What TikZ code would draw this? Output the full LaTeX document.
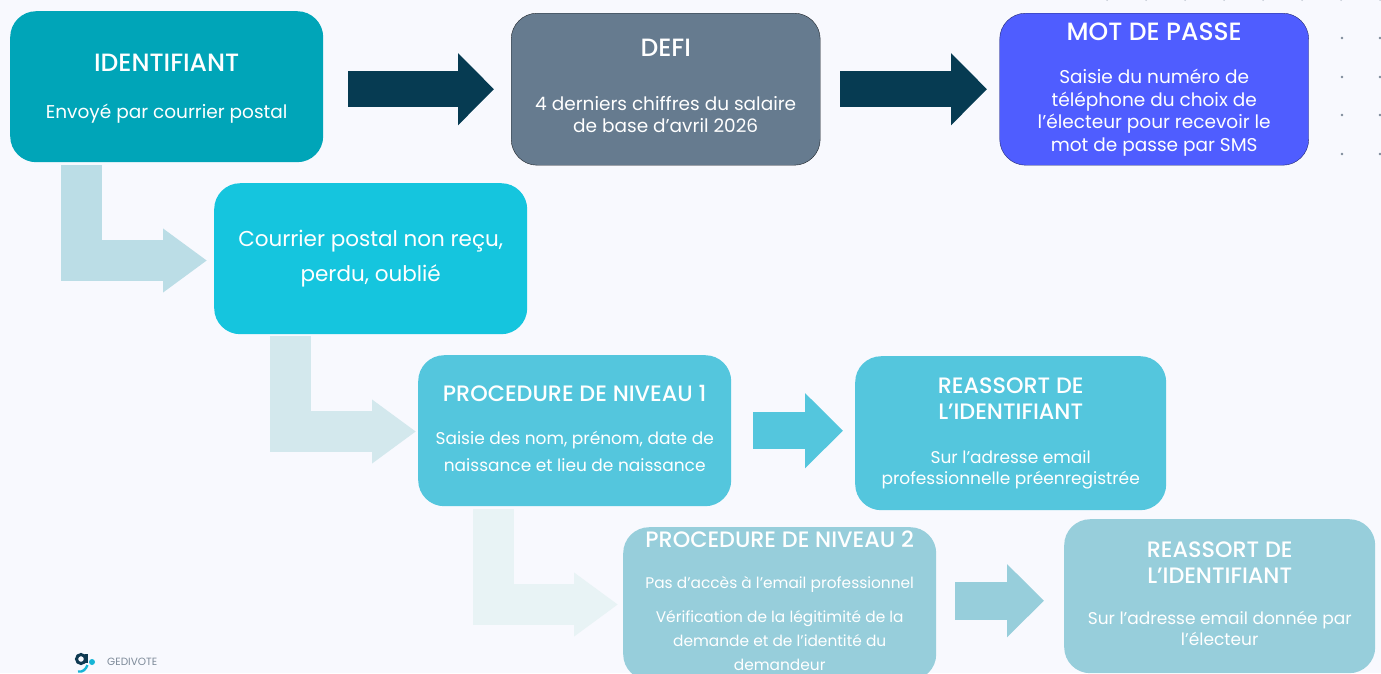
\documentclass[tikz,border=0pt]{standalone}
\usepackage{fontspec}
\setmainfont{Poppins}
\newfontfamily\pmed{Poppins Medium}
\usetikzlibrary{arrows.meta,calc}
\definecolor{bgc}{HTML}{F8F9FE}
\definecolor{cA}{HTML}{00A5B8}
\definecolor{cB}{HTML}{667B8F}
\definecolor{cC}{HTML}{15C5DE}
\definecolor{cD}{HTML}{54C6DD}
\definecolor{cE}{HTML}{97CEDB}
\definecolor{cV}{HTML}{4F5DFF}
\definecolor{aD}{HTML}{063B52}
\definecolor{a1}{HTML}{BBDDE6}
\definecolor{a2}{HTML}{D3E8ED}
\definecolor{a3}{HTML}{E8F3F5}
\definecolor{logoD}{HTML}{0F3A52}
\definecolor{logoC}{HTML}{16B5D6}
\definecolor{dotc}{HTML}{7D8A99}
\newcommand{\ttl}[1]{{\fontsize{25}{26}\pmed\selectfont #1}}
\newcommand{\ttb}[1]{{\fontsize{22.3}{26}\pmed\selectfont #1}}
\newcommand{\nudge}[1]{\rule[-#1]{0pt}{0pt}}
\tikzset{
 x=1pt,y=-1pt,
 card/.style={rounded corners=26pt,text=white,align=center,inner sep=0pt,anchor=north west,font=\fontsize{18.5}{22.5}\selectfont},
 small/.style={font=\fontsize{17}{21}\selectfont},
 bigarrow/.style={line width=36pt,-{Triangle[length=36pt,width=70pt]},line join=miter},
 larrow/.style={line width=41pt,-{Triangle[length=44pt,width=61pt]},line join=miter},
 smalldot/.style={circle,fill=dotc,inner sep=0pt,minimum size=2.6pt},
 edgedot/.style={circle,fill=dotc!45!bgc,inner sep=0pt,minimum size=2.6pt},
}
\begin{document}
\begin{tikzpicture}
\useasboundingbox (0,0) rectangle (1381,673);
\fill[bgc] (0,0) rectangle (1381,673);
\clip (0,0) rectangle (1381,673);
\node[card,fill=cA,minimum width=313pt,minimum height=151pt] (id) at (10,11) {\rule{0pt}{21pt}\ttl{IDENTIFIANT}\\[25pt]Envoyé par courrier postal};
\node[card,fill=cB,draw=black!70!cB,minimum width=309pt,minimum height=152pt] (defi) at (511,13) {\ttl{DEFI}\\[31pt]4 derniers chiffres du salaire\\de base d’avril 2026\nudge{6pt}};
\node[card,fill=cV,draw=black!55!cV,minimum width=309pt,minimum height=152pt] (mdp) at (999.5,13) {\ttl{MOT DE PASSE}\\[21pt]Saisie du numéro de\\téléphone du choix de\\l’électeur pour recevoir le\\mot de passe par SMS};
\node[card,fill=cC,minimum width=313pt,minimum height=151pt,font=\fontsize{21.5}{34.5}\selectfont] (perdu) at (214,183) {Courrier postal non reçu,\\perdu, oublié\nudge{4pt}};
\node[card,small,fill=cD,minimum width=313pt,minimum height=151pt,font=\fontsize{17}{27}\selectfont] (n1) at (418,355) {\ttb{PROCEDURE DE NIVEAU 1}\\[16pt]Saisie des nom, prénom, date de\\naissance et lieu de naissance\nudge{4pt}};
\node[card,small,fill=cD,minimum width=311pt,minimum height=154pt] (r1) at (855,356) {\ttb{REASSORT DE}\\[5pt]\ttb{L’IDENTIFIANT}\\[23pt]Sur l’adresse email\\professionnelle préenregistrée\nudge{3pt}};
\node[card,fill=cE,minimum width=313pt,minimum height=153pt,font=\fontsize{15.4}{24}\selectfont] (n2) at (623,527) {\ttb{PROCEDURE DE NIVEAU 2}\\[17pt]Pas d’accès à l’email professionnel\\[10pt]Vérification de la légitimité de la\\demande et de l’identité du\\demandeur\nudge{6pt}};
\node[card,small,fill=cE,minimum width=311pt,minimum height=154pt] (r2) at (1064,519) {\ttb{REASSORT DE}\\[5pt]\ttb{L’IDENTIFIANT}\\[20pt]Sur l’adresse email donnée par\\l’électeur\nudge{5pt}};
% straight arrows
\draw[bigarrow,aD] ([xshift=25pt,yshift=-2.5pt]id.east) -- ([xshift=-17pt]defi.west);
\draw[bigarrow,aD] ([xshift=20pt]defi.east) -- ([xshift=-12.5pt]mdp.west);
\draw[line width=37pt,-{Triangle[length=38pt,width=73pt]},cD] ([xshift=22pt]n1.east) -- ([xshift=-12pt]r1.west |- n1.east);
\draw[line width=38pt,-{Triangle[length=37pt,width=71pt]},cE] ([xshift=19pt,yshift=3pt]n2.east) -- ([xshift=-20pt,yshift=-4.5pt]r2.west);
% elbow arrows
\coordinate (e1) at ([xshift=-7pt]perdu.west);
\coordinate (s1) at ([xshift=71.5pt,yshift=-3pt]id.south west);
\draw[larrow,a1] (s1) |- (e1 |- 0,260.5);
\coordinate (s2) at ([xshift=76.5pt,yshift=-2pt]perdu.south west);
\coordinate (e2) at ([xshift=-2pt]n1.west);
\draw[larrow,a2] (s2) |- (e2 |- 0,431.5);
\coordinate (s3) at ([xshift=75.5pt,yshift=-3pt]n1.south west);
\coordinate (e3) at ([xshift=-5pt]n2.west);
\draw[larrow,a3] (s3) |- (e3 |- 0,604.5);
% dots
\foreach \yy in {38,77,115,154}{\node[smalldot] (d\yy a) at (1342,\yy) {};\node[smalldot] (d\yy b) at (1380,\yy) {};}
\foreach \xx in {1107,1146,1185,1224,1263,1302,1341,1380}{\node[edgedot] (t\xx) at (\xx,-0.3) {};}
% logo
\draw[logoD,line width=3pt] (81,659) circle (4.5pt);
\fill[logoD] (85,654) rectangle (87.5,663);
\fill[logoC] (92,662) circle (3pt);
\draw[logoC,line width=2.4pt] (78,671.5) .. controls (83,672.5) and (86,669) .. (87.5,665);
\node[text=dotc,font=\fontsize{10.5}{11}\selectfont,anchor=west,inner sep=0pt] (brand) at (107,661.5) {GEDIVOTE};
\end{tikzpicture}
\end{document}
